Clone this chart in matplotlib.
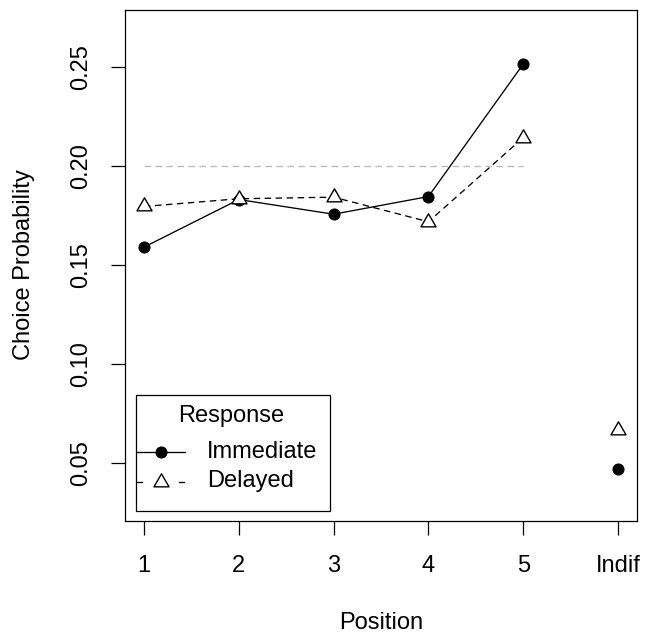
import matplotlib
matplotlib.use("Agg")
import matplotlib.pyplot as plt
from matplotlib.patches import Rectangle
from matplotlib.lines import Line2D
from matplotlib.path import Path

positions = [1, 2, 3, 4, 5, 6]
tick_labels = ["1", "2", "3", "4", "5", "Indif"]
immediate = [0.159, 0.183, 0.1756, 0.1845, 0.2513, 0.0473]
delayed = [0.1795, 0.1834, 0.1842, 0.1718, 0.2142, 0.0666]
reference_level = 0.20
y_ticks = [0.05, 0.10, 0.15, 0.20, 0.25]
y_tick_labels = ["0.05", "0.10", "0.15", "0.20", "0.25"]
series_names = ["Immediate", "Delayed"]
legend_title = "Response"

plt.rcParams['font.family'] = ['Liberation Sans', 'DejaVu Sans']
fs = 17

W, H = 652, 635
L, R, T, B = 125, 637, 9.5, 520.5

fig = plt.figure(figsize=(W/100, H/100), dpi=100)
ax = fig.add_axes([L/W, 1 - B/H, (R-L)/W, (B-T)/H])

lw = 0.95
px = 72/100  # points per pixel
dash = (0, (6.5*px/lw, 4.5*px/lw))

# R-style pch=2 triangle: centred on its circumcentre
tri = Path([(0, 1), (0.866, -0.5), (-0.866, -0.5), (0, 1)],
           [Path.MOVETO, Path.LINETO, Path.LINETO, Path.CLOSEPOLY])

ms_o = 7.7
ms_t = 12.5
mew = 1.0

ax.plot(positions[:5], [reference_level]*5, color='#b8b8b8', lw=lw, linestyle=dash, zorder=1)
ax.plot(positions[:5], immediate[:5], color='black', lw=lw, zorder=2)
ax.plot(positions[:5], delayed[:5], color='black', lw=lw, linestyle=dash, zorder=2)
ax.plot(positions, immediate, linestyle='none', marker='o', markersize=ms_o,
        color='black', zorder=3)
ax.plot(positions, delayed, linestyle='none', marker=tri, markersize=ms_t,
        markerfacecolor='white', markeredgecolor='black', markeredgewidth=mew, zorder=3)

ax.set_xlim(0.8, 6.2)
ax.set_ylim(0.0212, 0.2788)

# manual legend in pixel-derived axes coordinates
def axc(x, y):
    return ((x - L) / (R - L), (B - y) / (B - T))

x0, y0 = axc(135.5, 511)
x1, y1 = axc(330, 395)
ax.add_patch(Rectangle((x0, y0), x1 - x0, y1 - y0, transform=ax.transAxes,
                       facecolor='white', edgecolor='black', lw=0.9, zorder=5))
tx, ty = axc(231, 416)
ax.text(tx, ty, legend_title, transform=ax.transAxes, fontsize=fs,
        ha='center', va='center', zorder=6)
# entry 1
ya = axc(0, 452)[1]
ax.add_line(Line2D([axc(137, 0)[0], axc(185, 0)[0]], [ya, ya], transform=ax.transAxes,
                   color='black', lw=lw, zorder=6))
ax.add_line(Line2D([axc(161, 0)[0]], [ya], transform=ax.transAxes, marker='o',
                   markersize=ms_o, color='black', linestyle='none', zorder=7))
ax.text(axc(207, 0)[0], ya, series_names[0], transform=ax.transAxes, fontsize=fs,
        ha='left', va='center', zorder=6)
# entry 2
yb = axc(0, 482)[1]
for xs in [(136.5, 141.5), (178.5, 183.5)]:
    ax.add_line(Line2D([axc(xs[0], 0)[0], axc(xs[1], 0)[0]], [yb, yb], transform=ax.transAxes,
                       color='black', lw=lw, zorder=6))
ax.add_line(Line2D([axc(161, 0)[0]], [yb], transform=ax.transAxes, marker=tri,
                   markersize=ms_t, markerfacecolor='white', markeredgecolor='black',
                   markeredgewidth=mew, linestyle='none', zorder=7))
ax.text(axc(207, 0)[0], axc(0, 481)[1], series_names[1], transform=ax.transAxes, fontsize=fs,
        ha='left', va='center', zorder=6)

ax.set_xticks(positions)
ax.set_xticklabels(tick_labels, fontsize=fs)
ax.set_yticks(y_ticks)
ax.set_yticklabels(y_tick_labels, fontsize=fs, rotation=90, va='center')
ax.tick_params(axis='both', length=10, width=0.9, direction='out')
ax.tick_params(axis='x', pad=15)
ax.tick_params(axis='y', pad=13.5)
for s in ax.spines.values():
    s.set_linewidth(0.9)

ax.set_xlabel("Position", fontsize=fs)
ax.xaxis.set_label_coords(0.5, axc(0, 623)[1])
ax.xaxis.label.set_va('center')
ax.set_ylabel("Choice Probability", fontsize=fs)
ax.yaxis.set_label_coords(axc(24, 0)[0], 0.5)
ax.yaxis.label.set_va('center')

fig.savefig("out.png", dpi=100)
